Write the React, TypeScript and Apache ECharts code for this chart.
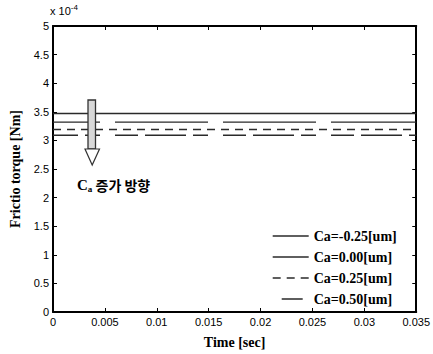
import React, { useEffect, useRef } from "react";
import * as echarts from "echarts";

const times = [0, 0.035];
const caLabels = ["Ca=-0.25[um]", "Ca=0.00[um]", "Ca=0.25[um]", "Ca=0.50[um]"];
const torqueValues = [3.47, 3.32, 3.19, 3.09]; // x 10^-4 Nm
const xTicks = { min: 0, max: 0.035, interval: 0.005 };
const yTicks = { min: 0, max: 5, interval: 0.5 };

const lineTypes: any[] = [
  { type: "solid", dashOffset: 0 },
  { type: [93, 15], dashOffset: 46 },
  { type: [8, 6], dashOffset: 0 },
  { type: [23, 7, 41, 7, 15, 15], dashOffset: 46 },
];
const legendLineTypes: any[] = [
  { type: "solid" },
  { type: "solid" },
  { type: [8, 6] },
  { type: [0, 7, 21, 20] },
];

export default function App() {
  const ref = useRef<HTMLDivElement>(null);
  useEffect(() => {
    if (!ref.current) return;
    const chart = echarts.init(ref.current, null, { renderer: "svg" });
    const axisColor = "#000";
    const serif = "'Liberation Serif', 'Times New Roman', serif";
    const sans = "'Liberation Sans', Arial, sans-serif";
    const series = caLabels.map((name, i) => ({
      name,
      type: "line",
      data: times.map((t) => [t, torqueValues[i]]),
      showSymbol: false,
      symbol: "none",
      xAxisIndex: 0,
      yAxisIndex: 0,
      lineStyle: {
        color: "#2a2a2a",
        width: 1.4,
        type: lineTypes[i].type,
        dashOffset: lineTypes[i].dashOffset,
      },
      itemStyle: { color: "#2a2a2a" },
      z: 2,
    }));
    const mkLine = () => ({ show: true, onZero: false, lineStyle: { color: axisColor, width: 2, opacity: 1 } });
    const mkTick = () => ({ show: true, inside: true, length: 4, lineStyle: { color: axisColor, width: 1 } });
    chart.setOption({
      animation: false,
      backgroundColor: "#fff",
      grid: { left: 50, right: 12, top: 26, bottom: 38 },
      legend: {
        orient: "vertical",
        left: 267,
        top: 224,
        itemWidth: 36,
        itemHeight: 14,
        itemGap: 7,
        itemStyle: { opacity: 0, color: "transparent", borderWidth: 0 },
        textStyle: { fontFamily: serif, fontWeight: "bold", fontSize: 14, color: "#000" },
        data: caLabels.map((name, i) => ({
          name,
          itemStyle: { opacity: 0, color: "transparent", borderWidth: 0 },
          lineStyle: { type: legendLineTypes[i].type, color: "#2a2a2a", width: 1.4, opacity: 1 },
        })),
      },
      xAxis: [
        {
          type: "value",
          min: xTicks.min,
          max: xTicks.max,
          interval: xTicks.interval,
          name: "Time [sec]",
          nameLocation: "middle",
          nameGap: 23,
          nameTextStyle: { fontFamily: serif, fontWeight: "bold", fontSize: 14, color: "#000" },
          axisLine: mkLine(),
          axisTick: mkTick(),
          axisLabel: { fontFamily: sans, fontSize: 11, color: "#000", margin: 4 },
          splitLine: { show: false },
        },
        {
          type: "value",
          position: "top",
          min: xTicks.min,
          max: xTicks.max,
          interval: xTicks.interval,
          axisLine: mkLine(),
          axisTick: mkTick(),
          axisLabel: { show: false },
          splitLine: { show: false },
        },
      ],
      yAxis: [
        {
          type: "value",
          min: yTicks.min,
          max: yTicks.max,
          interval: yTicks.interval,
          name: "Frictio torque [Nm]",
          nameLocation: "middle",
          nameGap: 31,
          nameTextStyle: { fontFamily: serif, fontWeight: "bold", fontSize: 14, color: "#000" },
          axisLine: mkLine(),
          axisTick: mkTick(),
          axisLabel: { fontFamily: sans, fontSize: 11, color: "#000", margin: 4 },
          splitLine: { show: false },
        },
        {
          type: "value",
          position: "right",
          min: yTicks.min,
          max: yTicks.max,
          interval: yTicks.interval,
          axisLine: mkLine(),
          axisTick: mkTick(),
          axisLabel: { show: false },
          splitLine: { show: false },
        },
      ],
      series,
      graphic: [
        {
          type: "text",
          x: 50,
          y: 19,
          style: {
            text: "{b|x 10}{s|-4}",
            verticalAlign: "bottom",
            rich: {
              b: { fontFamily: sans, fontSize: 11, fill: "#000" },
              s: { fontFamily: sans, fontSize: 8, fill: "#000", padding: [0, 0, 8, 0] },
            },
          },
          z: 10,
        },
        {
          type: "rect",
          shape: { x: 88, y: 100, width: 7.5, height: 49 },
          style: { fill: "#d8d8d8", stroke: "#333", lineWidth: 1.3 },
          z: 10,
        },
        {
          type: "polygon",
          shape: { points: [[85, 149], [99.5, 149], [92.2, 165]] },
          style: { fill: "#fff", stroke: "#333", lineWidth: 1.2 },
          z: 10,
        },
        {
          type: "text",
          x: 77,
          y: 185,
          style: {
            text: "{c|C}{a|a}{k| 증가 방향}",
            verticalAlign: "middle",
            rich: {
              c: { fontFamily: serif, fontWeight: "bold", fontSize: 15, fill: "#000" },
              a: { fontFamily: serif, fontWeight: "bold", fontSize: 9, fill: "#000", padding: [8, 0, 0, 0] },
              k: { fontFamily: "'Noto Sans CJK KR', sans-serif", fontWeight: "bold", fontSize: 14, fill: "#000" },
            },
          },
          z: 10,
        },
      ],
    });
    return () => chart.dispose();
  }, []);
  return (
    <div
      ref={ref}
      style={{ position: "fixed", left: 0, top: 0, width: 433, height: 354, background: "#fff" }}
    />
  );
}
